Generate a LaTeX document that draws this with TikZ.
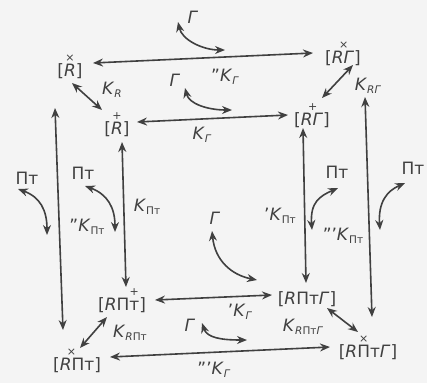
\documentclass[tikz,border=0pt]{standalone}
\usepackage{fontspec}
\setmainfont{DejaVu Sans}
\usetikzlibrary{arrows.meta}
\definecolor{ink}{HTML}{404040}
\definecolor{paper}{HTML}{F4F4F4}
\newcommand\mk[1]{\makebox[0pt]{\raisebox{0.85em}{\fontsize{11}{11}\selectfont #1}}}
\newcommand\ontop[2]{\setbox0=\hbox{#1}\rlap{\hbox to\wd0{\hss\raisebox{0.85em}{\fontsize{11}{11}\selectfont #2}\hss}}\box0}
\newcommand\ls[1]{\raisebox{-0.35ex}{\fontsize{10.5}{10.5}\selectfont #1}}
\begin{document}
\begin{tikzpicture}[x=1pt,y=-1pt,
  font=\fontsize{17}{19}\selectfont, text=ink,
  st/.style={inner sep=0pt, anchor=base},
  lab/.style={inner sep=0pt},
  arr/.style={draw=ink, line width=1.6pt, {Stealth[length=10pt,width=8pt]}-{Stealth[length=10pt,width=8pt]}}]
\fill[paper] (0,0) rectangle (427,383);
\useasboundingbox (0,0) rectangle (427,383);
% species
\node[st] (A) at (70,76)  {[\ontop{\textit{R}}{×}]};
\node[st] (B) at (343,63) {[\textit{R}\mk{×}\textit{Г}]};
\node[st] (C) at (117,134) {[\ontop{\textit{R}}{+}]};
\node[st] (D) at (312,125) {[\textit{R}\mk{+}\textit{Г}]};
\node[st] (E) at (122,310) {[\textit{R}П\ontop{т}{+}]};
\node[st] (F) at (307,304) {[\textit{R}Пт\textit{Г}]};
\node[st] (G) at (77,370) {[\textit{R}\mk{×}Пт]};
\node[st] (H) at (368,357) {[\textit{R}\ontop{П}{×}т\textit{Г}]};
% constants
\node[lab] (kR)   at (112,90)  {\textit{K}\ls{\textit{R}}};
\node[lab] (k2G)  at (225,77)  {''\textit{K}\ls{\textit{Г}}};
\node[lab] (kG)   at (202,135) {\textit{K}\ls{\textit{Г}}};
\node[lab] (kRG)  at (368,86)  {\textit{K}\ls{\textit{RГ}}};
\node[lab] (kP)   at (147,207) {\textit{K}\ls{Пт}};
\node[lab] (k2P)  at (87,227)  {''\textit{K}\ls{Пт}};
\node[lab] (k1P)  at (280,216) {'\textit{K}\ls{Пт}};
\node[lab] (k3P)  at (343,236) {'''\textit{K}\ls{Пт}};
\node[lab] (k1G)  at (240,312) {'\textit{K}\ls{\textit{Г}}};
\node[lab] (kRPG) at (303,327) {\textit{K}\ls{\textit{R}Пт\textit{Г}}};
\node[lab] (kRP)  at (130,333) {\textit{K}\ls{\textit{R}Пт}};
\node[lab] (k3G)  at (214,370) {'''\textit{K}\ls{\textit{Г}}};
% agents
\node[lab] (g1) at (193,17)  {\textit{Г}};
\node[lab] (g2) at (175,80)  {\textit{Г}};
\node[lab] (g3) at (215,218) {\textit{Г}};
\node[lab] (g4) at (190,325) {\textit{Г}};
\node[lab] (p1) at (27,178)  {Пт};
\node[lab] (p2) at (83,173)  {Пт};
\node[lab] (p3) at (337,172) {Пт};
\node[lab] (p4) at (413,168) {Пт};
% horizontal equilibria
\draw[arr] ([shift={(23,-13)}]A.base) -- ([shift={(-30,-10)}]B.base);
\draw[arr] ([shift={(20,-12)}]C.base) -- ([shift={(-24,-10)}]D.base);
\draw[arr] ([shift={(33,-10)}]E.base) -- ([shift={(-35,-9)}]F.base);
\draw[arr] ([shift={(33,-13)}]G.base) -- ([shift={(-38,-10)}]H.base);
% vertical equilibria
\draw[arr] ([shift={(-15,32)}]A.base) -- ([shift={(-14,-40)}]G.base);
\draw[arr] ([shift={(5,8)}]C.base) -- ([shift={(4,-23)}]E.base);
\draw[arr] ([shift={(-9,3)}]D.base) -- ([shift={(-1,-21)}]F.base);
\draw[arr] ([shift={(22,34)}]B.base) -- ([shift={(4,-40)}]H.base);
% diagonal equilibria
\draw[arr] ([shift={(2,7)}]A.base) -- ([shift={(-15,-24)}]C.base);
\draw[arr] ([shift={(10,2)}]B.base) -- ([shift={(10,-27)}]D.base);
\draw[arr] ([shift={(-15,7)}]E.base) -- ([shift={(3,-22)}]G.base);
\draw[arr] ([shift={(20,4)}]F.base) -- ([shift={(-10,-25)}]H.base);
% curved agent arrows
\draw[arr] (178,22) .. controls +(4,18) and +(-22,0) .. (225,50);
\draw[arr] (185,88) .. controls +(4,16) and +(-24,0) .. (232,110);
\draw[arr] (212,231) .. controls +(3,30) and +(-25,-5) .. (257,280);
\draw[arr] (202,323) .. controls +(5,15) and +(-25,0) .. (247,340);
\draw[arr] (18,189) .. controls +(22,8) and +(0,-25) .. (47,235);
\draw[arr] (85,186) .. controls +(22,8) and +(0,-25) .. (115,232);
\draw[arr] (312,230) .. controls +(-2,-28) and +(-18,8) .. (338,188);
\draw[arr] (380,230) .. controls +(-2,-28) and +(-18,8) .. (405,183);
\end{tikzpicture}
\end{document}
